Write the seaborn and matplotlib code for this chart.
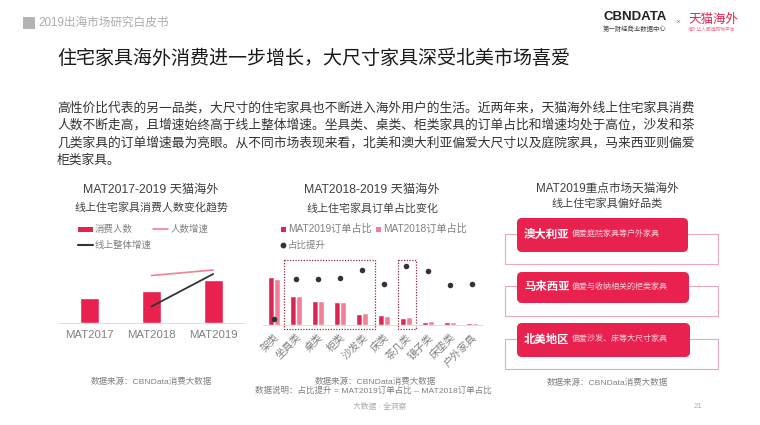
import matplotlib
matplotlib.use('Agg')
import matplotlib.pyplot as plt
from matplotlib.patches import FancyBboxPatch, Rectangle
import pandas as pd
import seaborn as sns

sns.set_theme(style='white')
plt.rcParams['font.family'] = ['Liberation Sans', 'Noto Sans CJK SC', 'DejaVu Sans']

RED = '#E8214F'
DARK_RED = '#D92653'
PINK = '#F27F97'
LINE_PINK = '#EE8296'
BLACK = '#333333'
GRAY = '#808080'

# left chart
years = ['MAT2017', 'MAT2018', 'MAT2019']
users = [25, 32, 43]
user_growth = [None, 47.5, 53]
online_growth = [None, 16.5, 49]

# middle chart
categories = ['架类', '坐具类', '桌类', '柜类', '沙发类', '床类', '茶几类', '镜子类', '床垫类', '户外家具']
share_2019 = [48, 28.7, 24.3, 23, 11.3, 9.7, 7.3, 3, 3, 2.3]
share_2018 = [45.7, 28.7, 24.3, 23, 12.3, 9.3, 8.3, 4, 2.7, 2.3]
share_lift = [6.3, 46, 46, 46.7, 54.7, 41.3, 59, 54, 40, 41.3]

body_lines = [
    '高性价比代表的另一品类，大尺寸的住宅家具也不断进入海外用户的生活。近两年来，天猫海外线上住宅家具消费',
    '人数不断走高，且增速始终高于线上整体增速。坐具类、桌类、柜类家具的订单占比和增速均处于高位，沙发和茶',
    '几类家具的订单增速最为亮眼。从不同市场表现来看，北美和澳大利亚偏爱大尺寸以及庭院家具，马来西亚则偏爱',
    '柜类家具。',
]
markets = ['澳大利亚', '马来西亚', '北美地区']
market_notes = ['偏爱庭院家具等户外家具', '偏爱与收纳相关的柜类家具', '偏爱沙发、床等大尺寸家具']

W, H = 760, 425
fig = plt.figure(figsize=(W / 100, H / 100), dpi=100, facecolor='white')


def px_axes(x0, x1, y_top, y_bottom):
    ax = fig.add_axes([x0 / W, 1 - y_bottom / H, (x1 - x0) / W, (y_bottom - y_top) / H])
    ax.patch.set_alpha(0)
    return ax


# overlay in pixel coordinates for page furniture
page = fig.add_axes([0, 0, 1, 1], zorder=0)
page.set_xlim(0, W)
page.set_ylim(H, 0)
page.axis('off')


def put(x, y, s, size, color=GRAY, ha='left', **kw):
    page.text(x, y, s, fontsize=size, color=color, ha=ha, va='center', **kw)


# header
page.add_patch(Rectangle((23, 17), 12, 12, color='#B3B3B3', lw=0))
put(38, 23, '2019出海市场研究白皮书', 8.4, '#ABABAB')
put(603, 17, 'CBNDATA', 9.5, '#222222', fontweight='bold')
put(603, 29, '第一财经商业数据中心', 4.6, '#444444')
put(678, 22, '×', 6, '#888888', ha='center')
put(688, 20, '天猫海外', 9, RED)
put(688, 29, '海外华人都选购物平台', 3.4, '#EE6E88')

put(57, 59, '住宅家具海外消费进一步增长，大尺寸家具深受北美市场喜爱', 13.7, '#1A1A1A')
for i, line in enumerate(body_lines):
    put(57, 108 + i * 17.6, line, 9.2, '#333333')

# left chart
put(151, 190, 'MAT2017-2019 天猫海外', 8.8, '#404040', ha='center')
put(151, 208, '线上住宅家具消费人数变化趋势', 7.9, '#404040', ha='center')
page.add_patch(Rectangle((78, 227), 15, 5, color=RED, lw=0))
put(95, 229, '消费人数', 6.8)
page.plot([153, 168], [229, 229], color=LINE_PINK, lw=1.2)
put(171, 229, '人数增速', 6.8)
page.plot([78, 93], [245, 245], color=BLACK, lw=1.5)
put(95, 245, '线上整体增速', 6.8)
put(151, 382, '数据来源：CBNData消费大数据', 6.1, ha='center')

df_left = pd.DataFrame({'year': years, 'users': users,
                        'user_growth': user_growth, 'online_growth': online_growth})
ax1 = px_axes(59, 244, 263, 323)
sns.barplot(data=df_left, x='year', y='users', color=RED, saturation=1, width=0.31, ax=ax1)
sns.lineplot(data=df_left, x='year', y='user_growth', color=LINE_PINK, lw=1.2, ax=ax1)
sns.lineplot(data=df_left, x='year', y='online_growth', color=BLACK, lw=1.3, ax=ax1)
ax1.set_xlim(-0.5, 2.5)
ax1.set_ylim(0, 60)
ax1.set_xlabel('')
ax1.set_ylabel('')
ax1.set_yticks([])
sns.despine(ax=ax1, left=True)
ax1.spines['bottom'].set_color('#DDDDDD')
ax1.spines['bottom'].set_linewidth(0.7)
ax1.tick_params(axis='x', length=0, pad=5, labelsize=8.2, labelcolor=GRAY)

# middle chart
put(372, 190, 'MAT2018-2019 天猫海外', 8.8, '#404040', ha='center')
put(372, 208, '线上住宅家具订单占比变化', 7.9, '#404040', ha='center')
page.add_patch(Rectangle((281, 227), 4.5, 5, color=DARK_RED, lw=0))
put(288, 229, 'MAT2019订单占比', 7.3)
page.add_patch(Rectangle((376, 227), 4.5, 5, color=PINK, lw=0))
put(383, 229, 'MAT2018订单占比', 7.3)
page.plot([283], [245], 'o', color=BLACK, ms=3.2)
put(288, 245, '占比提升', 6.8)
put(375, 382, '数据来源：CBNData消费大数据', 6.1, ha='center')
put(373, 391, '数据说明：占比提升 = MAT2019订单占比 – MAT2018订单占比', 6.1, ha='center')

df_mid = pd.DataFrame({
    'category': categories * 2,
    'share': share_2019 + share_2018,
    'period': ['MAT2019'] * len(categories) + ['MAT2018'] * len(categories),
})
df_lift = pd.DataFrame({'category': categories, 'lift': share_lift})
ax2 = px_axes(263, 483, 255, 325)
sns.barplot(data=df_mid, x='category', y='share', hue='period',
            palette={'MAT2019': DARK_RED, 'MAT2018': PINK}, saturation=1,
            width=0.56, gap=0.12, legend=False, ax=ax2)
sns.scatterplot(data=df_lift, x='category', y='lift', color=BLACK, s=16, linewidth=0, zorder=5, ax=ax2)
ax2.set_xlim(-0.5, 9.5)
ax2.set_ylim(0, 70)
ax2.set_xlabel('')
ax2.set_ylabel('')
ax2.set_yticks([])
sns.despine(ax=ax2, left=True)
ax2.spines['bottom'].set_color('#DDDDDD')
ax2.spines['bottom'].set_linewidth(0.7)
ax2.tick_params(axis='x', length=0, pad=5, labelsize=7.5, labelcolor=GRAY)
plt.setp(ax2.get_xticklabels(), rotation=45, ha='right', rotation_mode='anchor')

# dotted highlight boxes around the sofa and tea table groups
for x0, x1 in [(284, 375), (398, 416)]:
    page.add_patch(Rectangle((x0, 260), x1 - x0, 69, fill=False, ec='#8E2A45', lw=0.9, ls=(0, (1, 1.2))))

# right panel
put(607, 189, 'MAT2019重点市场天猫海外', 8.4, '#404040', ha='center')
put(607, 203, '线上住宅家具偏好品类', 8, '#404040', ha='center')
outlines = [(234, 264), (286, 316), (339, 369)]
boxes = [(517, 688, 218, 252), (517, 689, 272, 303), (517, 690, 323, 357)]
for (o0, o1), (x0, x1, y0, y1), name, note in zip(outlines, boxes, markets, market_notes):
    page.add_patch(Rectangle((505, o0), 213, o1 - o0, fill=False, ec='#E8A9B8', lw=0.8))
    page.add_patch(FancyBboxPatch((x0 + 4, y0 + 4), x1 - x0 - 8, y1 - y0 - 8,
                                  boxstyle='round,pad=4,rounding_size=5', fc=RED, ec='none', zorder=3))
    ym = (y0 + y1) / 2 - 1
    page.text(524, ym, name, fontsize=8.2, color='white', fontweight='bold', va='center', zorder=4)
    page.text(572, ym, note, fontsize=5.8, color='#FBD5DD', va='center', zorder=4)
put(607, 383, '数据来源：CBNData消费大数据', 6.1, ha='center')

# footer
put(380, 407, '大数据 · 全洞察', 5.6, '#ABABAB', ha='center')
put(698, 407, '21', 5.6, '#ABABAB', ha='center')

fig.savefig('out.png', dpi=100)
